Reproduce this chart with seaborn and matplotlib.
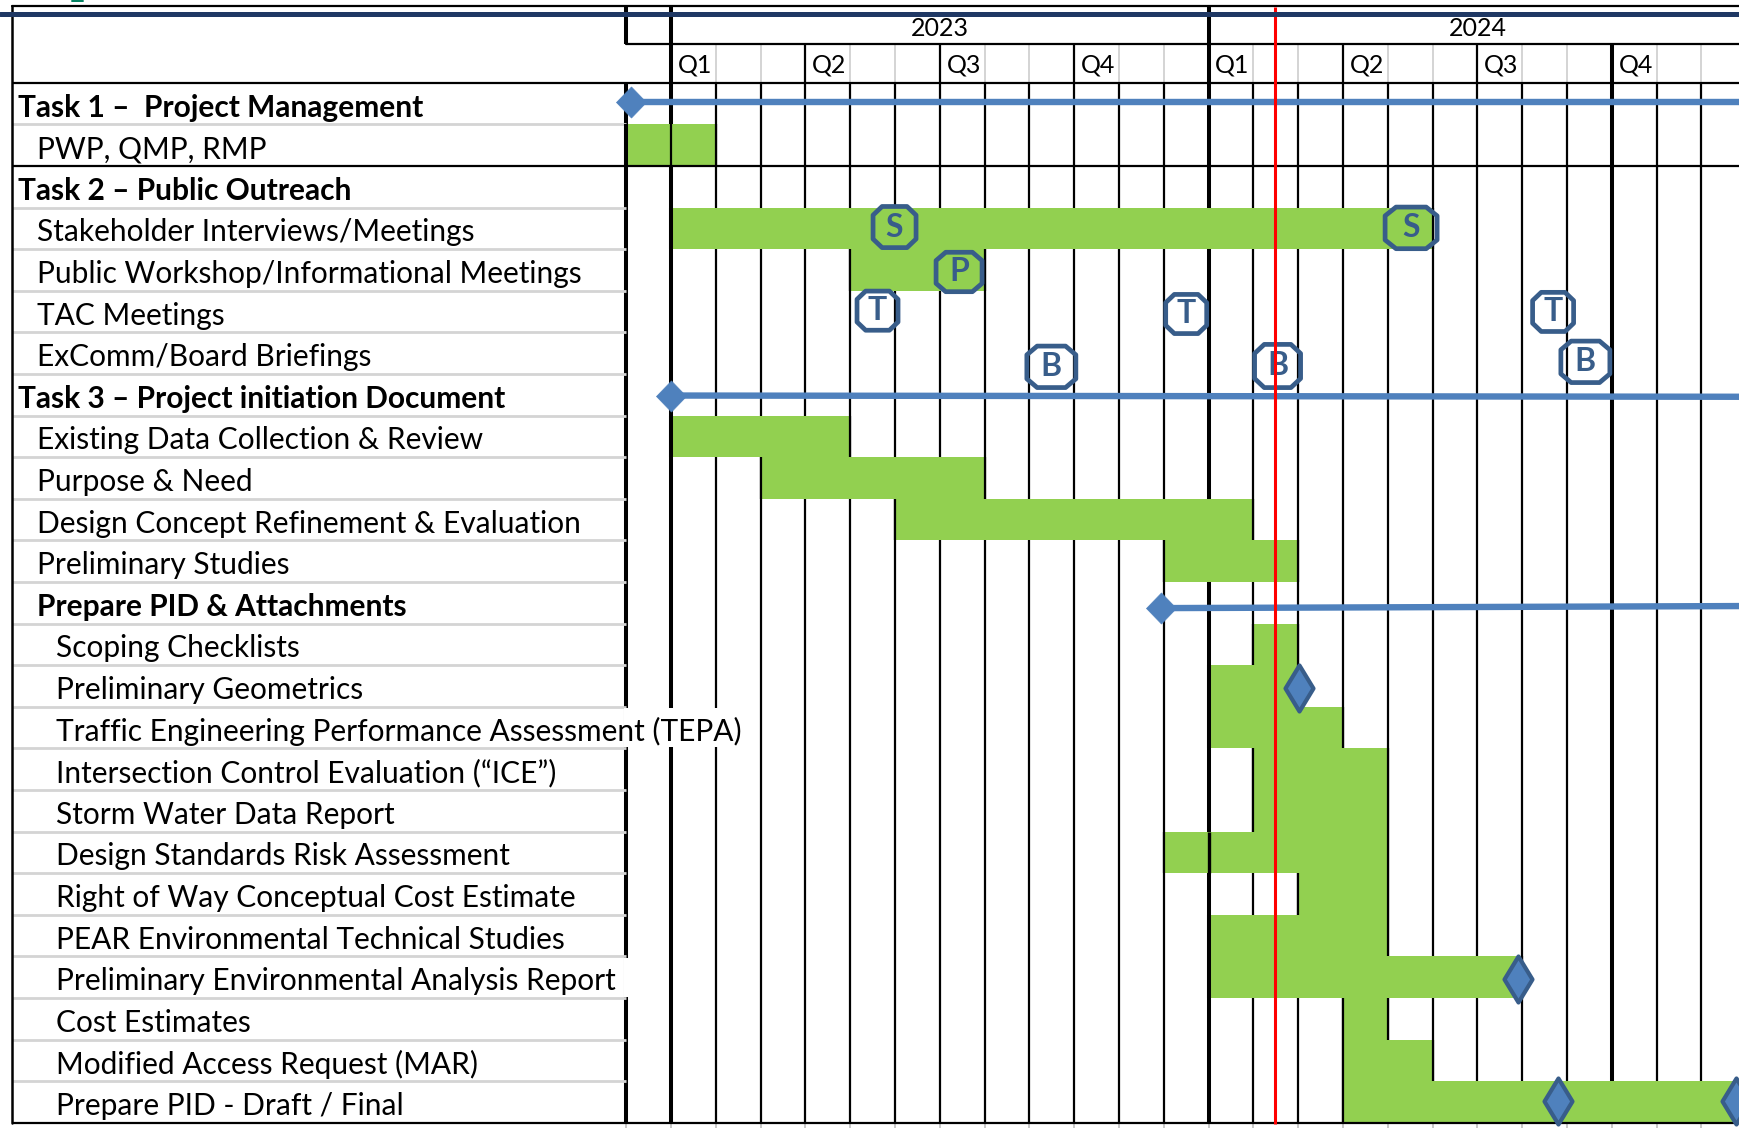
import numpy as np
import pandas as pd
import matplotlib
matplotlib.use("Agg")
import matplotlib.pyplot as plt
from matplotlib.colors import ListedColormap
from matplotlib.path import Path
import seaborn as sns

#schedule rows, indent 0 = task, 1 = item, 2 = sub item
labels = ["Task 1 \u2013  Project Management", "PWP, QMP, RMP", "Task 2 \u2013 Public Outreach",
          "Stakeholder Interviews/Meetings", "Public Workshop/Informational Meetings", "TAC Meetings",
          "ExComm/Board Briefings", "Task 3 \u2013 Project initiation Document",
          "Existing Data Collection & Review", "Purpose & Need", "Design Concept Refinement & Evaluation",
          "Preliminary Studies", "Prepare PID & Attachments", "Scoping Checklists", "Preliminary Geometrics",
          "Traffic Engineering Performance Assessment (TEPA)", "Intersection Control Evaluation (\u201cICE\u201d)",
          "Storm Water Data Report", "Design Standards Risk Assessment", "Right of Way Conceptual Cost Estimate",
          "PEAR Environmental Technical Studies", "Preliminary Environmental Analysis Report", "Cost Estimates",
          "Modified Access Request (MAR)", "Prepare PID - Draft / Final"]
indents = [0, 1, 0, 1, 1, 1, 1, 0, 1, 1, 1, 1, 1, 2, 2, 2, 2, 2, 2, 2, 2, 2, 2, 2, 2]
bold_rows = [0, 2, 7, 12]

#bars, in month columns (column 0 is the one before Jan 2023), -1 = no bar
bar_start = [-1, 0, -1, 1, 5, -1, -1, -1, 1, 3, 6, 12, -1, 14, 13, 13, 14, 14, 12, 15, 13, 13, 16, 16, 16]
bar_end = [-1, 2, -1, 18, 8, -1, -1, -1, 5, 8, 14, 15, -1, 15, 15, 16, 17, 17, 17, 17, 17, 20, 17, 18, 25]
n_cols = 25

#header
years = ["2023", "2024"]
year_cols = [1, 13, 25]
quarters = ["Q1", "Q2", "Q3", "Q4", "Q1", "Q2", "Q3", "Q4"]
quarter_cols = [1, 4, 7, 10, 13, 16, 19, 22]
thick_cols = [0, 1, 13, 22]

#rows where the long label hides the month lines behind it (row, last column)
overflow_rows = [15, 21]
overflow_ends = [2.6, 0.06]

#summary lines (col start, row start, col end, row end)
summary_col = [0.10, 0.99, 11.94]
summary_row = [0.46, 7.52, 12.63]
summary_end_col = [25.1, 25.1, 25.1]
summary_end_row = [0.46, 7.55, 12.58]

#meeting symbols
meet_text = ["S", "S", "P", "T", "T", "T", "B", "B", "B"]
meet_col = [5.99, 17.52, 7.43, 5.61, 12.5, 20.69, 9.49, 14.54, 21.41]
meet_row = [3.47, 3.49, 4.55, 5.48, 5.56, 5.51, 6.83, 6.81, 6.71]
meet_w = [46, 55, 49, 44, 44, 44, 52, 49, 52]
meet_h = [44, 44, 42, 42, 42, 42, 44, 46, 44]

#deliverable diamonds
dia_col = [15.01, 19.91, 20.8, 24.77]
dia_row = [14.54, 21.54, 24.47, 24.47]

today_col = 14.49

#pixel layout of the sheet
W, H = 1739, 1128
X0, DX = 626.2, 44.8
Y0, DY = 82.7, 41.6
GREEN = "#92d050"
BLUE = "#4f81bd"
DARK = "#385d8a"


def cx(px):
    return (px - X0) / DX


def ry(px):
    return (px - Y0) / DY


def octagon(w, h):
    a, b = w / 2, h / 2
    c = 0.58
    return Path([(-a * c, -b), (a * c, -b), (a, -b * c), (a, b * c), (a * c, b), (-a * c, b), (-a, b * c), (-a, -b * c), (-a * c, -b)], closed=True)


def diamond(w, h):
    return Path([(0, -h / 2), (w / 2, 0), (0, h / 2), (-w / 2, 0), (0, -h / 2)], closed=True)


sns.set_theme(style="white")
plt.rcParams["font.family"] = ["Lato", "DejaVu Sans"]

fig = plt.figure(figsize=(W / 100, H / 100), dpi=100)
ax = fig.add_axes([0, 0, 1, 1])

#turn start/end into a month grid for the heatmap
grid = np.zeros((len(labels), n_cols))
for i in range(len(labels)):
    if bar_start[i] >= 0:
        grid[i, bar_start[i]:bar_end[i]] = 1
df = pd.DataFrame(grid)
sns.heatmap(df, ax=ax, mask=df == 0, cmap=ListedColormap([GREEN]), cbar=False, vmin=0, vmax=1,
            xticklabels=False, yticklabels=False, linewidths=0, zorder=2)
ax.set_xlim(cx(0), cx(W))
ax.set_ylim(ry(H), ry(0))
ax.axis("off")

rows = len(labels)
top = ry(6)
mid = ry(44)

#month lines, grey in the header and black in the body
for c in range(0, 26):
    lw = 2.9 if c in thick_cols else 1.6
    ax.plot([c, c], [0, rows], color="black", lw=lw, zorder=1, solid_capstyle="butt")
    ax.plot([c, c], [rows, ry(1128)], color="#c8c8c8", lw=1.4, zorder=1, solid_capstyle="butt")
    if c in quarter_cols:
        ax.plot([c, c], [mid, 0], color="black", lw=lw, zorder=1, solid_capstyle="butt")
    elif c > 0:
        ax.plot([c, c], [mid, 0], color="#d4d4d4", lw=1.4, zorder=1, solid_capstyle="butt")
for c in [0, 1, 13]:
    ax.plot([c, c], [top, mid], color="black", lw=2.9, zorder=1, solid_capstyle="butt")

#month lines stay visible on the edges of the bars
for i in range(rows):
    if bar_start[i] < 0:
        continue
    for c in [bar_start[i], bar_end[i]]:
        lw = 2.9 if c in thick_cols else 1.6
        ax.plot([c, c], [i, i + 1], color="black", lw=lw, zorder=2.5, solid_capstyle="butt")
ax.plot([1, 1], [1, 2], color="black", lw=1.6, zorder=2.5, solid_capstyle="butt")
ax.plot([13, 13], [18, 19], color="black", lw=2.4, zorder=2.5, solid_capstyle="butt")

#row rules
left = cx(12)
for r in range(1, rows):
    if r == 2:
        continue
    ax.plot([left, 0], [r, r], color="#d4d4d4", lw=2, zorder=1, solid_capstyle="butt")
for r in [0, 2, rows]:
    ax.plot([left, cx(W)], [r, r], color="black", lw=1.6, zorder=3, solid_capstyle="butt")
ax.plot([left, cx(W)], [top, top], color="black", lw=1.6, zorder=3)
ax.plot([0, cx(W)], [mid, mid], color="black", lw=1.6, zorder=3)
ax.plot([left, left], [top, rows], color="black", lw=1.8, zorder=3)
ax.plot([cx(0), cx(W)], [ry(14), ry(14)], color="#1f3864", lw=3.6, zorder=6)
ax.plot([cx(72), cx(83)], [ry(0.5), ry(0.5)], color="#00805f", lw=1.4, zorder=6)

#long labels blank out the lines behind them
for r, end in zip(overflow_rows, overflow_ends):
    ax.fill_between([-0.06, end], r + 0.03, r + 0.97, color="white", lw=0, zorder=1.5)

#labels
indent_px = [18, 37, 56.5]
for r, text in enumerate(labels):
    ax.text(cx(indent_px[indents[r]]), r + 0.6, text, fontsize=21.5, color="black", va="center", ha="left",
            fontweight="bold" if r in bold_rows else "normal", zorder=3.5)

#header text
for i, y in enumerate(years):
    ax.text((year_cols[i] + year_cols[i + 1]) / 2, ry(28), y, fontsize=18, color="black", ha="center", va="center", zorder=4)
for c, q in zip(quarter_cols, quarters):
    ax.text(c + 0.15, ry(65), q, fontsize=18, color="black", ha="left", va="center", zorder=4)

#summary lines with end diamonds
for i in range(len(summary_col)):
    sns.lineplot(x=[summary_col[i], summary_end_col[i]], y=[summary_row[i], summary_end_row[i]], ax=ax,
                 color=BLUE, lw=4.6, zorder=4, estimator=None, sort=False)
    sns.scatterplot(x=[summary_col[i], 25.15], y=[summary_row[i], summary_end_row[i]], ax=ax, marker=diamond(30, 31),
                    s=(31 * 0.72) ** 2, color=BLUE, edgecolor=BLUE, linewidth=0.5, zorder=4)

#deliverables
sns.scatterplot(x=dia_col, y=dia_row, ax=ax, marker=diamond(28, 46), s=(46 * 0.72) ** 2, color=BLUE,
                edgecolor=DARK, linewidth=3, zorder=4)

#meetings
for i in range(len(meet_text)):
    size = max(meet_w[i], meet_h[i]) - 3
    sns.scatterplot(x=[meet_col[i]], y=[meet_row[i]], ax=ax, marker=octagon(meet_w[i], meet_h[i]), s=(size * 0.72) ** 2,
                    color="none", edgecolor=DARK, linewidth=3.4, zorder=4)
    ax.text(meet_col[i], meet_row[i], meet_text[i], fontsize=23, fontweight="bold", color=DARK, ha="center", va="center", zorder=4)

ax.plot([today_col, today_col], [ry(7), rows + 0.02], color="#ff0000", lw=2.2, zorder=5, solid_capstyle="butt")

ax.set_xlim(cx(0), cx(W))
ax.set_ylim(ry(H), ry(0))
if ax.get_legend():
    ax.get_legend().remove()

fig.savefig("out.png", dpi=100)
